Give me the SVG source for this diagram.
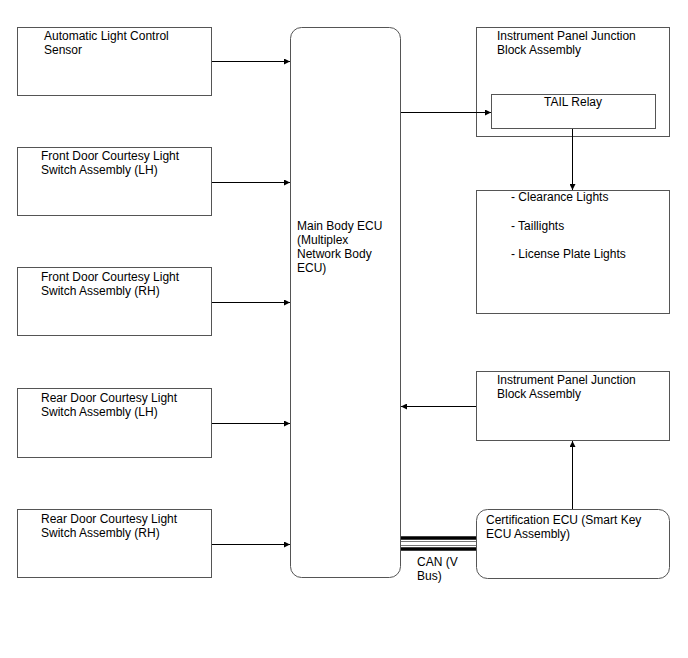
<svg xmlns="http://www.w3.org/2000/svg" width="688" height="658" viewBox="0 0 688 658">
<style>
.b{fill:#fff;stroke:#555;stroke-width:1}
.t{font-family:"Liberation Sans",Arial,sans-serif;font-size:12px;fill:#000}
.c{stroke:#000;stroke-width:1;fill:none}
</style>
<defs>
<marker id="a" viewBox="0 0 10 10" refX="10" refY="5" markerWidth="10" markerHeight="6" orient="auto" markerUnits="userSpaceOnUse">
<path d="M0,0 L10,5 L0,10 Z" fill="#000"/>
</marker>
</defs>
<rect width="688" height="658" fill="#fff"/>
<g id="n1"><rect class="b" x="17.5" y="27.5" width="194" height="68"/><text class="t" x="44" y="40">Automatic Light Control</text><text class="t" x="44" y="54">Sensor</text></g>
<g id="n2"><rect class="b" x="17.5" y="147.5" width="194" height="68"/><text class="t" x="41" y="160">Front Door Courtesy Light</text><text class="t" x="41" y="174">Switch Assembly (LH)</text></g>
<g id="n3"><rect class="b" x="17.5" y="267.5" width="194" height="68"/><text class="t" x="41" y="281">Front Door Courtesy Light</text><text class="t" x="41" y="295">Switch Assembly (RH)</text></g>
<g id="n4"><rect class="b" x="17.5" y="388.5" width="194" height="69"/><text class="t" x="41" y="402">Rear Door Courtesy Light</text><text class="t" x="41" y="416">Switch Assembly (LH)</text></g>
<g id="n5"><rect class="b" x="17.5" y="509.5" width="194" height="68"/><text class="t" x="41" y="523">Rear Door Courtesy Light</text><text class="t" x="41" y="537">Switch Assembly (RH)</text></g>
<g id="ecu"><rect class="b" x="290.5" y="27.5" width="110" height="550" rx="11"/><text class="t" x="297" y="230">Main Body ECU</text><text class="t" x="297" y="244">(Multiplex</text><text class="t" x="297" y="258">Network Body</text><text class="t" x="297" y="272">ECU)</text></g>
<g id="ipjb1"><rect class="b" x="476.5" y="27.5" width="193" height="109"/><text class="t" x="497" y="40">Instrument Panel Junction</text><text class="t" x="497" y="54">Block Assembly</text></g>
<g id="tail"><rect class="b" x="491.5" y="94.5" width="164" height="34"/><text class="t" x="573" y="106" text-anchor="middle">TAIL Relay</text></g>
<g id="lights"><rect class="b" x="476.5" y="190.5" width="193" height="123"/><text class="t" x="511" y="201">- Clearance Lights</text><text class="t" x="511" y="230">- Taillights</text><text class="t" x="511" y="258">- License Plate Lights</text></g>
<g id="ipjb2"><rect class="b" x="476.5" y="371.5" width="193" height="69"/><text class="t" x="497" y="384">Instrument Panel Junction</text><text class="t" x="497" y="398">Block Assembly</text></g>
<g id="cert"><rect class="b" x="476.5" y="509.5" width="193" height="69" rx="11"/><text class="t" x="486" y="524">Certification ECU (Smart Key</text><text class="t" x="486" y="538">ECU Assembly)</text></g>
<g id="connectors">
<line class="c" x1="212" y1="61.5" x2="290" y2="61.5" marker-end="url(#a)"/>
<line class="c" x1="212" y1="182.5" x2="290" y2="182.5" marker-end="url(#a)"/>
<line class="c" x1="212" y1="302.5" x2="290" y2="302.5" marker-end="url(#a)"/>
<line class="c" x1="212" y1="423.5" x2="290" y2="423.5" marker-end="url(#a)"/>
<line class="c" x1="212" y1="544.5" x2="290" y2="544.5" marker-end="url(#a)"/>
<line class="c" x1="401" y1="112.5" x2="491" y2="112.5" marker-end="url(#a)"/>
<line class="c" x1="572.5" y1="129" x2="572.5" y2="190" marker-end="url(#a)"/>
<line class="c" x1="476" y1="406.5" x2="401" y2="406.5" marker-end="url(#a)"/>
<line class="c" x1="572.5" y1="509" x2="572.5" y2="441" marker-end="url(#a)"/>
<line x1="401" y1="538" x2="476" y2="538" stroke="#000" stroke-width="3.5"/>
<line x1="401" y1="541.5" x2="476" y2="541.5" stroke="#777" stroke-width="1"/>
<line x1="401" y1="545.5" x2="476" y2="545.5" stroke="#777" stroke-width="1"/>
<line x1="401" y1="549" x2="476" y2="549" stroke="#000" stroke-width="3.5"/>
<text class="t" x="417" y="566">CAN (V</text><text class="t" x="417" y="580">Bus)</text>
</g>
</svg>
